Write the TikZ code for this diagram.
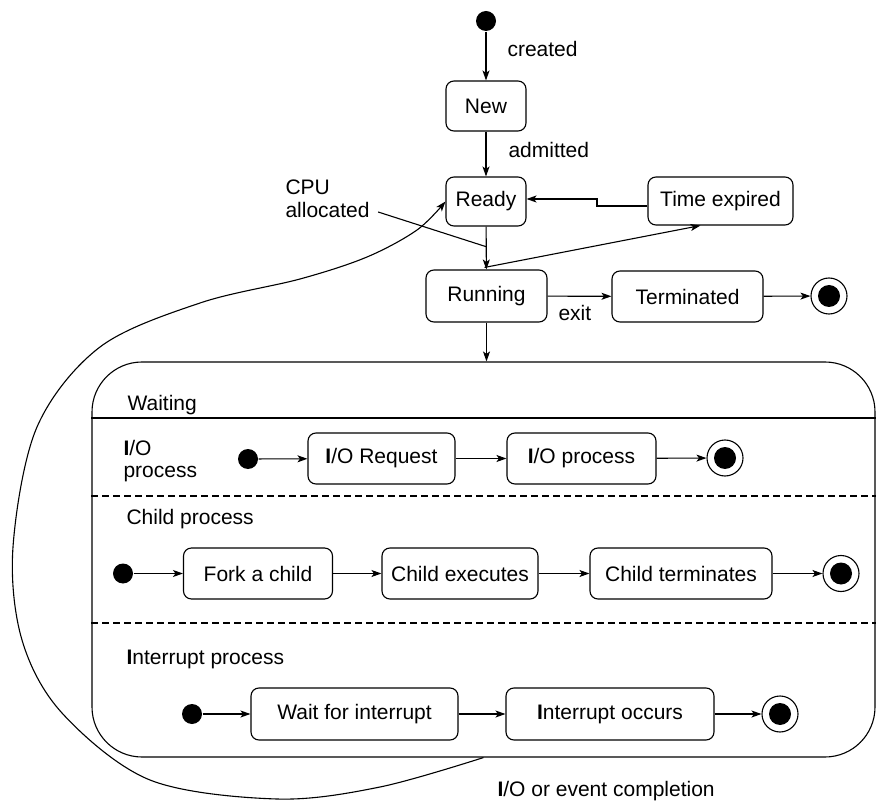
\documentclass[tikz,border=0pt]{standalone}
\usepackage{fontspec}
\setmainfont{Liberation Sans}
\usetikzlibrary{arrows.meta,calc}
\begin{document}
\begin{tikzpicture}[x=1pt,y=-1pt,
  font=\fontsize{21}{25}\selectfont,
  line width=1.1pt,
  statebox/.style={draw, rounded corners=8pt, inner sep=0pt, align=center, minimum height=51pt},
  initst/.style={circle, fill, inner sep=0pt, minimum size=20pt},
  finalst/.style={circle, draw, fill=white, inner sep=0pt, minimum size=36pt,
    path picture={\fill[black] (path picture bounding box.center) circle (11pt);}},
  arr/.style={-{Stealth[length=10pt,width=7pt,inset=2.5pt]}},
  lbl/.style={anchor=base west, inner sep=0pt},
  sep/.style={dash pattern=on 7pt off 4pt},
]
\useasboundingbox (0,0) rectangle (876,802);

% top part
\node[initst] (start) at (486,21) {};
\node[statebox, minimum width=80pt, minimum height=50pt] (new) at (486,106) {New};
\node[statebox, minimum width=80pt, minimum height=49pt] (ready) at (486,201.5) {Ready};
\node[statebox, minimum width=145pt, minimum height=48pt] (te) at (720.5,201) {Time expired};
\node[statebox, minimum width=121pt, minimum height=52pt] (running) at (486.5,296) {Running};
\node[statebox, minimum width=151pt] (term) at (687.5,296.5) {Terminated};
\node[finalst] (fin) at (829,296) {};

\node[lbl] (cr) at (507,57) {created};
\node[lbl] (ad) at (508,158) {admitted};
\node[lbl] (cpu) at (285,195) {CPU};
\node[lbl] (alloc) at (285,218) {allocated};
\node[lbl] (exitl) at (558,321) {exit};

\draw[arr] (start) -- (new);
\draw[arr] (new) -- (ready);
\draw[arr] (ready) -- (running);
\coordinate (j1) at (597,206);
\coordinate (j2) at (597,199);
\draw[arr] (te.west |- j1) -- (j1) -- (j2) -- (ready.east |- j2);
\coordinate (rt) at ($(running.north)+(-2,-2)$);
\draw[arr] (rt) -- ([xshift=-20pt]te.south);
\coordinate (cpuend) at ($(ready.south)!0.47!(running.north)$);
\draw ([xshift=8pt,yshift=6pt]alloc.base east) -- (cpuend);
\draw[arr] (running) -- (term);
\draw[arr] (term) -- (fin);

% waiting composite state
\node[draw, rounded corners=50pt, minimum width=783pt, minimum height=395pt, inner sep=0pt] (waiting) at (483.5,559.5) {};
\draw[arr] (running.south) -- (running.south |- waiting.north);
\draw (waiting.west |- 0,418) -- (waiting.east |- 0,418);
\draw[sep] (waiting.west |- 0,496) -- (waiting.east |- 0,496);
\draw[sep] (waiting.west |- 0,623) -- (waiting.east |- 0,623);

\node[lbl] (wl) at (127,410) {Waiting};
\node[lbl] (iol1) at (123,455) {\textbf{I}/O};
\node[lbl] (iol2) at (123,477) {process};
\node[lbl] (cpl) at (126,524) {Child process};
\node[lbl] (ipl) at (126,664) {\textbf{I}nterrupt process};
\node[lbl] (compl) at (497,796) {\textbf{I}/O or event completion};

% I/O row
\node[initst] (ioi) at (248,459) {};
\node[statebox, minimum width=147pt] (ioreq) at (381.5,458.5) {\textbf{I}/O Request};
\node[statebox, minimum width=149pt] (ioproc) at (581.5,458.5) {\textbf{I}/O process};
\node[finalst] (iof) at (725,458) {};
\draw[arr] (ioi) -- (ioreq);
\draw[arr] (ioreq) -- (ioproc);
\draw[arr] (ioproc) -- (iof);

% Child row
\node[initst] (chi) at (123,573.5) {};
\node[statebox, minimum width=149pt] (fork) at (258,573.5) {Fork a child};
\node[statebox, minimum width=156pt] (chex) at (460,573.5) {Child executes};
\node[statebox, minimum width=182pt] (chterm) at (681,573.5) {Child terminates};
\node[finalst] (chf) at (841,573.5) {};
\draw[arr] (chi) -- (fork);
\draw[arr] (fork) -- (chex);
\draw[arr] (chex) -- (chterm);
\draw[arr] (chterm) -- (chf);

% Interrupt row
\node[initst] (ini) at (192,714) {};
\node[statebox, minimum width=207pt, minimum height=52pt] (wfi) at (354.5,714) {Wait for interrupt};
\node[statebox, minimum width=208pt, minimum height=52pt] (io) at (610,714) {\textbf{I}nterrupt occurs};
\node[finalst] (inf) at (780,714) {};
\draw[arr] (ini) -- (wfi);
\draw[arr] (wfi) -- (io);
\draw[arr] (io) -- (inf);

% I/O or event completion curve
\draw[arr] plot[smooth, tension=0.55] coordinates {
  (waiting.south) (380,787) (277,799) (150,780) (62,713) (22,640) (13,547)
  (37,427) (100,347) (200,303) (300,279) (367,257) (417,230) (ready.west)};
\end{tikzpicture}
\end{document}
